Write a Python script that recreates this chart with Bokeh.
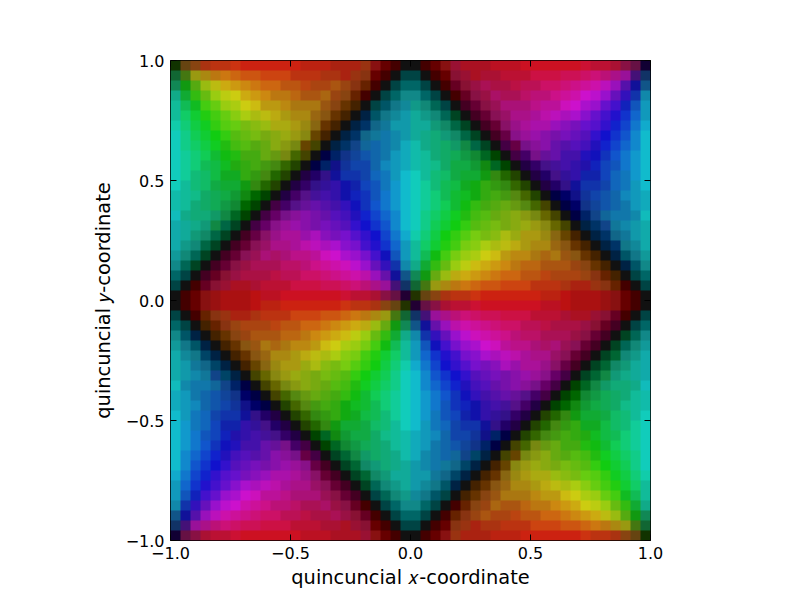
import numpy as np
from bokeh.embed import file_html
from bokeh.models import FixedTicker, LinearAxis
from bokeh.plotting import figure
from bokeh.resources import INLINE

x_label = "quincuncial 𝑥-coordinate"
y_label = "quincuncial 𝑦-coordinate"
tick_values = [-1.0, -0.5, 0.0, 0.5, 1.0]
tick_labels = ["\u22121.0", "\u22120.5", "0.0", "0.5", "1.0"]

# Colour of each cell, top row first (12-bit RGB hex).
cell_rows = [
"130 641 841 a31 b31 b31 c31 c21 c21 c21 c21 c21 c21 b21 b21 b21 a21 a21 a21 931 811 600 400 111 111 400 600 811 913 a12 a12 a12 b12 b12 b12 c12 c12 c12 c12 c12 c12 c13 b13 b13 a13 814 614 103",
"163 471 991 a81 b71 c71 c61 c51 c51 c41 c41 c41 b31 b31 b31 a31 a31 a21 931 831 600 400 111 044 044 111 400 600 813 913 a12 a13 a13 b13 b13 b13 c14 c14 c14 c15 c15 c16 c17 b17 a18 919 417 136",
"185 191 5a1 9b1 bb1 ca1 c91 c81 c71 c61 c61 b51 b51 b41 a41 a41 a51 941 831 620 400 111 044 066 066 044 111 400 602 813 914 a15 a14 a14 b14 b15 b15 c16 c16 c17 c18 c19 c1a b1b 91b 51a 119 158",
"1a8 1a3 3b1 6b1 9c1 bc1 cc1 ca1 c91 c81 b71 b71 b61 a51 a51 a61 941 841 620 400 111 044 066 188 188 066 044 111 400 602 814 914 a16 a15 a15 b16 b17 b17 c18 c19 c1a c1c b1c 91c 61b 31b 13a 18a",
"1b9 1b5 1b2 4c1 6c1 9c1 ac1 cc1 cb1 b91 b91 b81 a71 a71 a71 951 841 630 420 111 044 056 178 189 198 187 065 044 111 402 603 814 915 a17 a17 a17 b18 b19 b19 c1b c1c a1c 91c 61c 41c 12b 15b 19b",
"1b9 1c6 1c3 2c1 4c1 6c1 8c1 ac1 ab1 bb1 ba1 a91 a81 a81 961 851 630 420 111 024 056 178 189 19a 1a9 198 187 065 042 111 402 603 815 916 a18 a18 a19 b1a b1b a1b a1c 81c 61c 41c 21c 13c 16c 19b",
"1ca 1c7 1c4 1c2 3c1 5c1 6c1 7b1 8b1 9b1 aa1 aa1 a91 981 861 630 420 111 024 036 168 179 19a 19a 1a9 1a9 197 186 064 042 111 402 603 816 918 a19 a1a a1a 91b 81b 71b 61c 51c 31c 12c 14c 17c 1ac",
"1cb 1c8 1c5 1c3 1c1 3c1 5b1 6b1 7b1 7a1 8a1 9a1 991 881 640 420 111 024 036 168 179 17a 18a 19a 1a9 1a8 1a7 197 186 064 042 111 402 604 818 919 91a 81a 71a 71b 61b 51b 31c 11c 13c 15c 18c 1bc",
"1cb 1c8 1c6 1c4 1c2 2b1 4b1 5b1 5a1 6a1 8a1 891 781 640 440 111 024 036 148 169 16a 17a 18a 1ab 1ba 1a8 1a7 1a6 196 184 064 042 111 404 604 718 819 81a 61a 51a 51b 41b 21b 12c 14c 16c 18c 1bc",
"1cb 1c9 1c7 1c5 1b3 1b1 2b1 4a1 4a1 6a1 691 781 460 440 111 004 026 138 149 15a 16a 17a 19b 1ab 1ba 1b9 1a7 1a6 1a5 194 183 062 040 111 404 406 718 619 61a 41a 41a 21b 11b 13b 15c 17c 19c 1bc",
"1cb 1c9 1c7 1b5 1b4 1b2 2a1 3a1 4a1 491 481 360 240 111 004 026 118 139 14a 14a 16a 18b 19b 1ab 1ba 1b9 1b8 1a6 1a4 1a4 193 181 062 040 111 204 306 418 419 41a 31a 21a 12b 14b 15b 17c 19c 1bc",
"1cb 1c9 1b7 1b6 1b4 1a2 1a2 3a1 391 481 260 240 111 204 206 318 119 13a 13a 14a 16b 17b 19b 1bc 1cb 1b9 1b7 1b6 1a4 1a3 1a3 191 381 260 240 111 204 206 418 319 31a 12a 12a 14b 16b 17b 19c 1bc",
"1cb 1b9 1b7 1b6 1a4 1a3 1a3 191 381 260 240 111 204 306 318 319 31a 11a 12a 14b 15b 17b 19c 1bc 1cb 1c9 1b7 1b5 1b4 1a2 1a1 3a1 391 381 360 240 111 204 206 318 119 13a 13a 14a 16b 17b 19b 1bc",
"1ba 1b9 1b8 1a6 1a5 1a4 193 181 060 040 111 204 406 518 419 41a 31a 11a 12b 13b 15b 17c 19c 1bc 1cb 1c9 1c7 1b5 1b3 1b2 1a1 3a1 4a1 491 581 460 240 111 004 006 118 139 14a 15a 16a 18b 19b 1ab",
"1ba 1b9 1a7 1a6 1a5 194 183 060 040 111 404 406 518 619 61a 51a 41a 31b 11b 13b 15c 17c 19c 1bc 1cb 1c9 1c7 1c5 1b3 1b1 3b1 4a1 5a1 6a1 691 581 460 440 111 004 006 138 149 15a 16a 17a 19b 1ab",
"1bb 1a8 1a7 1a7 196 184 062 040 111 404 606 718 819 81a 71a 61a 51b 41b 21b 12c 14c 16c 18c 1bc 1cb 1c8 1c6 1c4 1c2 2b1 4b1 5b1 6a1 7a1 8a1 891 781 660 440 111 004 026 148 169 17a 17a 18a 1bb",
"1aa 1a9 1a8 197 184 064 042 111 404 606 818 919 91a 81a 71a 71b 61b 51b 31c 11c 13c 15c 18c 1bc 1cb 1c8 1c5 1c3 1c1 3c1 5b1 6b1 7b1 7a1 8a1 9a1 991 881 660 440 111 024 036 148 179 18a 19a 1aa",
"1aa 1a9 197 186 064 042 111 402 604 816 918 a19 a19 91a a1b 81b 71b 71c 51c 31c 11c 14c 17c 1ac 1ca 1c7 1c4 1c1 3c1 5c1 7c1 7b1 8b1 ab1 9a1 a91 a91 981 861 640 420 111 024 036 168 179 19a 1aa",
"1aa 198 187 064 042 111 402 603 815 916 a18 a18 a19 b1a b1b a1b a1c 81c 71c 41c 21c 13c 16c 19b 1b9 1c6 1c3 2c1 4c1 7c1 8c1 ac1 ab1 bb1 ba1 a91 a81 a81 961 851 630 420 111 024 036 178 189 1aa",
"199 187 065 042 111 402 603 815 915 a17 a16 a17 b18 b18 b19 c1b c1c a1c 91c 71c 41c 11b 15b 19b 1b9 1b5 1b1 4c1 7c1 9c1 ac1 cc1 cb1 b91 b81 b81 a71 a61 a71 951 851 630 420 111 024 056 178 199",
"188 065 042 111 402 603 814 914 a15 a15 a15 b16 b16 b17 c18 c19 c1a c1b b1c 91c 61b 31b 13a 18a 1a8 1a3 3b1 6b1 9c1 bc1 cb1 ca1 c91 c81 b71 b61 b61 a51 a51 a51 941 841 630 420 111 024 056 188",
"066 044 111 402 602 813 914 a14 a14 a14 b14 b15 b15 c16 c16 c17 c18 c19 c1a b1a 91b 61a 119 158 185 191 6a1 9b1 ba1 ca1 c91 c81 c71 c61 c61 b51 b51 b41 a41 a41 a41 941 831 620 420 111 044 066",
"044 111 400 602 813 913 a12 a12 a13 b13 b13 b13 c14 c14 c14 c15 c15 c16 c17 b17 a18 919 417 136 163 471 991 a81 b71 c71 c61 c51 c51 c41 c41 c41 b31 b31 b31 a31 a21 a21 931 831 620 400 111 044",
"111 400 600 811 911 a11 a11 a11 b11 b12 b12 c12 c12 c12 c12 c12 c12 c13 b13 b13 a13 814 614 203 230 641 841 a31 b31 b31 c31 c21 c21 c21 c21 c21 c21 b21 b21 b11 a11 a11 a11 911 811 600 400 111",
"111 400 600 811 911 a11 a11 a11 b11 b21 b21 c21 c21 c21 c21 c21 c21 c31 b31 b31 a31 841 641 230 203 614 814 a13 b13 b13 c13 c12 c12 c12 c12 c12 c12 b12 b12 b11 a11 a11 a11 911 811 600 400 111",
"044 111 400 620 831 931 a21 a21 a31 b31 b31 b31 c41 c41 c41 c51 c51 c61 c71 b71 a81 991 471 163 136 417 919 a18 b17 c17 c16 c15 c15 c14 c14 c14 b13 b13 b13 a13 a12 a12 913 813 602 400 111 044",
"066 044 111 420 620 831 941 a41 a41 a41 b41 b51 b51 c61 c61 c71 c81 c91 ca1 ba1 9b1 6a1 191 185 158 119 61a 91b b1a c1a c19 c18 c17 c16 c16 b15 b15 b14 a14 a14 a14 914 813 602 402 111 044 066",
"188 056 024 111 420 630 841 941 a51 a51 a51 b61 b61 b71 c81 c91 ca1 cb1 bc1 9c1 6b1 3b1 1a3 1a8 18a 13a 31b 61b 91c b1c c1b c1a c19 c18 b17 b16 b16 a15 a15 a15 914 814 603 402 111 042 065 188",
"199 178 056 024 111 420 630 851 951 a71 a61 a71 b81 b81 b91 cb1 cc1 ac1 9c1 7c1 4c1 1b1 1b5 1b9 19b 15b 11b 41c 71c 91c a1c c1c c1b b19 b18 b18 a17 a16 a17 915 815 603 402 111 042 065 187 199",
"1aa 189 178 046 024 111 420 630 851 961 a81 a81 a91 ba1 bb1 ab1 ac1 8c1 7c1 4c1 2c1 1c3 1c6 1b9 19b 16c 13c 21c 41c 71c 81c a1c a1b b1b b1a a19 a18 a18 916 815 603 402 111 042 063 187 198 1aa",
"1aa 19a 179 168 046 024 111 420 640 861 981 a91 a91 9a1 ab1 8b1 7b1 7c1 5c1 3c1 1c1 1c4 1c7 1ca 1ac 17c 14c 11c 31c 51c 71c 71b 81b a1b 91a a19 a19 918 816 604 402 111 042 063 186 197 1a9 1aa",
"1aa 19a 18a 179 148 046 024 111 440 660 881 991 9a1 8a1 7a1 7b1 6b1 5b1 3c1 1c1 1c3 1c5 1c8 1cb 1bc 18c 15c 13c 11c 31c 51b 61b 71b 71a 81a 91a 919 818 606 404 111 042 063 184 197 1a8 1a9 1aa",
"1bb 18a 17a 17a 169 148 026 004 111 440 660 781 891 8a1 7a1 6a1 5b1 4b1 2b1 1c2 1c4 1c6 1c8 1cb 1bc 18c 16c 14c 12c 21b 41b 51b 61a 71a 81a 819 718 606 404 111 040 062 184 196 1a7 1a7 1a8 1bb",
"1ab 19b 17a 16a 15a 149 138 006 004 111 440 460 581 691 6a1 5a1 4a1 3b1 1b1 1b3 1c5 1c7 1c9 1cb 1bc 19c 17c 15c 13b 11b 31b 41a 51a 61a 619 518 406 404 111 040 060 183 194 1a5 1a6 1a7 1b9 1ba",
"1ab 19b 18b 16a 15a 14a 139 118 006 004 111 240 460 581 491 4a1 3a1 1a1 1b2 1b3 1b5 1c7 1c9 1cb 1bc 19c 17c 15b 13b 12b 11a 31a 41a 419 518 406 204 111 040 060 181 193 1a4 1a5 1a6 1b8 1b9 1ba",
"1bc 19b 17b 16b 14a 13a 13a 119 318 206 204 111 240 360 381 391 3a1 1a1 1a2 1b4 1b5 1b7 1c9 1cb 1bc 19c 17b 15b 14b 12a 11a 31a 319 318 306 204 111 240 260 381 191 1a3 1a3 1a4 1b6 1b7 1b9 1cb",
"1bc 19c 17b 16b 14b 12a 12a 31a 319 418 206 204 111 240 260 381 191 1a3 1a3 1a4 1b6 1b7 1b9 1cb 1bc 19b 17b 16b 14a 13a 13a 119 318 206 204 111 240 260 481 391 3a1 1a2 1a2 1b4 1b6 1b7 1c9 1cb",
"1bc 19c 17c 15b 14b 12b 21a 31a 41a 419 418 306 204 111 040 062 181 193 1a4 1a4 1a6 1b8 1b9 1ba 1ab 19b 18b 16a 14a 14a 139 118 026 004 111 240 360 481 491 4a1 3a1 2a1 1b2 1b4 1b5 1c7 1c9 1cb",
"1bc 19c 17c 15c 13b 11b 21b 41a 41a 61a 619 718 406 404 111 040 062 183 194 1a5 1a6 1a7 1b9 1ba 1ab 19b 17a 16a 15a 149 138 026 004 111 440 460 781 691 6a1 4a1 4a1 2b1 1b1 1b3 1c5 1c7 1c9 1cb",
"1bc 18c 16c 14c 12c 21b 41b 51b 51a 61a 81a 819 718 604 404 111 042 063 184 196 1a6 1a7 1a8 1ba 1ab 18a 17a 16a 169 148 046 024 111 440 640 781 891 8a1 6a1 5a1 5b1 4b1 2b1 1c2 1c4 1c6 1c8 1cb",
"1bc 18c 15c 13c 11c 31c 51b 61b 71b 71a 81a 91a 919 818 604 402 111 042 063 186 197 1a7 1a8 1a9 19a 18a 17a 179 168 046 024 111 420 640 881 991 9a1 8a1 7a1 7b1 6b1 5b1 3c1 1c1 1c3 1c5 1c8 1cb",
"1ac 17c 14c 12c 31c 51c 61c 71b 81b 91b a1a a1a a19 918 816 603 402 111 042 063 186 197 1a9 1a9 19a 19a 179 168 046 024 111 420 630 861 981 a91 aa1 aa1 9b1 8b1 7b1 6c1 5c1 3c1 1c2 1c4 1c7 1ca",
"19b 16c 13c 21c 41c 61c 81c a1c a1b b1b b1a a19 a18 a18 916 815 603 402 111 042 065 187 198 1a9 19a 189 178 056 024 111 420 630 851 961 a81 a81 a91 ba1 bb1 ab1 ac1 8c1 6c1 4c1 2c1 1c3 1c6 1b9",
"19b 15b 12b 41c 61c 91c a1c c1c c1b b19 b19 b18 a17 a17 a17 915 814 603 402 111 044 065 187 198 189 178 056 044 111 420 630 841 951 a71 a71 a71 b81 b91 b91 cb1 cc1 ac1 9c1 6c1 4c1 1b2 1b5 1b9",
"18a 13a 31b 61b 91c b1c c1c c1a c19 c18 b17 b17 b16 a15 a15 a16 914 814 602 400 111 044 066 188 188 066 044 111 400 620 841 941 a61 a51 a51 b61 b71 b71 c81 c91 ca1 cc1 bc1 9c1 6b1 3b1 1a3 1a8",
"158 119 51a 91b b1b c1a c19 c18 c17 c16 c16 b15 b15 b14 a14 a14 a15 914 813 602 400 111 044 066 066 044 111 400 620 831 941 a51 a41 a41 b41 b51 b51 c61 c61 c71 c81 c91 ca1 bb1 9b1 5a1 191 185",
"136 417 919 a18 b17 c17 c16 c15 c15 c14 c14 c14 b13 b13 b13 a13 a13 a12 913 813 600 400 111 044 044 111 400 600 831 931 a21 a31 a31 b31 b31 b31 c41 c41 c41 c51 c51 c61 c71 b71 a81 991 471 163",
"103 614 814 a13 b13 b13 c13 c12 c12 c12 c12 c12 c12 b12 b12 b12 a12 a12 a12 913 811 600 400 111 111 400 600 811 931 a21 a21 a21 b21 b21 b21 c21 c21 c21 c21 c21 c21 c31 b31 b31 a31 841 641 130",
]

n = len(cell_rows)
img = np.zeros((n, n), dtype=np.uint32)
view = img.view(dtype=np.uint8).reshape((n, n, 4))
for j, row in enumerate(reversed(cell_rows)):
    for i, h in enumerate(row.split()):
        view[j, i] = (int(h[0], 16) * 17, int(h[1], 16) * 17, int(h[2], 16) * 17, 255)

p = figure(frame_width=480, frame_height=480, x_range=(-1, 1), y_range=(-1, 1),
           min_border_left=170, min_border_right=142, min_border_top=60, min_border_bottom=52,
           toolbar_location=None, output_backend="svg", background_fill_color="white",
           x_axis_label=x_label, y_axis_label=y_label)
p.grid.visible = False
p.outline_line_color = "black"
p.outline_line_width = 1
p.image_rgba(image=[img], x=-1, y=-1, dw=2, dh=2)

p.add_layout(LinearAxis(), "above")
p.add_layout(LinearAxis(), "right")
overrides = dict(zip(tick_values, tick_labels))
for ax in p.axis:
    ax.ticker = FixedTicker(ticks=tick_values)
    ax.major_label_overrides = overrides
    ax.major_tick_in = 6
    ax.major_tick_out = 0
    ax.minor_tick_in = 0
    ax.minor_tick_out = 0
    ax.axis_line_color = None
    ax.major_tick_line_color = "black"
    ax.major_label_text_font = "DejaVu Sans"
    ax.major_label_text_font_size = "16px"
    ax.major_label_text_color = "black"
    ax.major_label_standoff = 6
for ax in list(p.above) + list(p.right):
    ax.major_label_text_font_size = "0px"
    ax.major_label_text_color = None
    ax.major_label_standoff = 0
for ax in list(p.below) + list(p.left):
    ax.axis_label_text_font = "DejaVu Sans"
    ax.axis_label_text_font_style = "normal"
    ax.axis_label_text_font_size = "19.4px"
    ax.axis_label_text_color = "black"
for ax in p.below:
    ax.axis_label_standoff = 4
for ax in p.left:
    ax.axis_label_standoff = 8

open("out.html", "w").write(file_html(p, INLINE))
